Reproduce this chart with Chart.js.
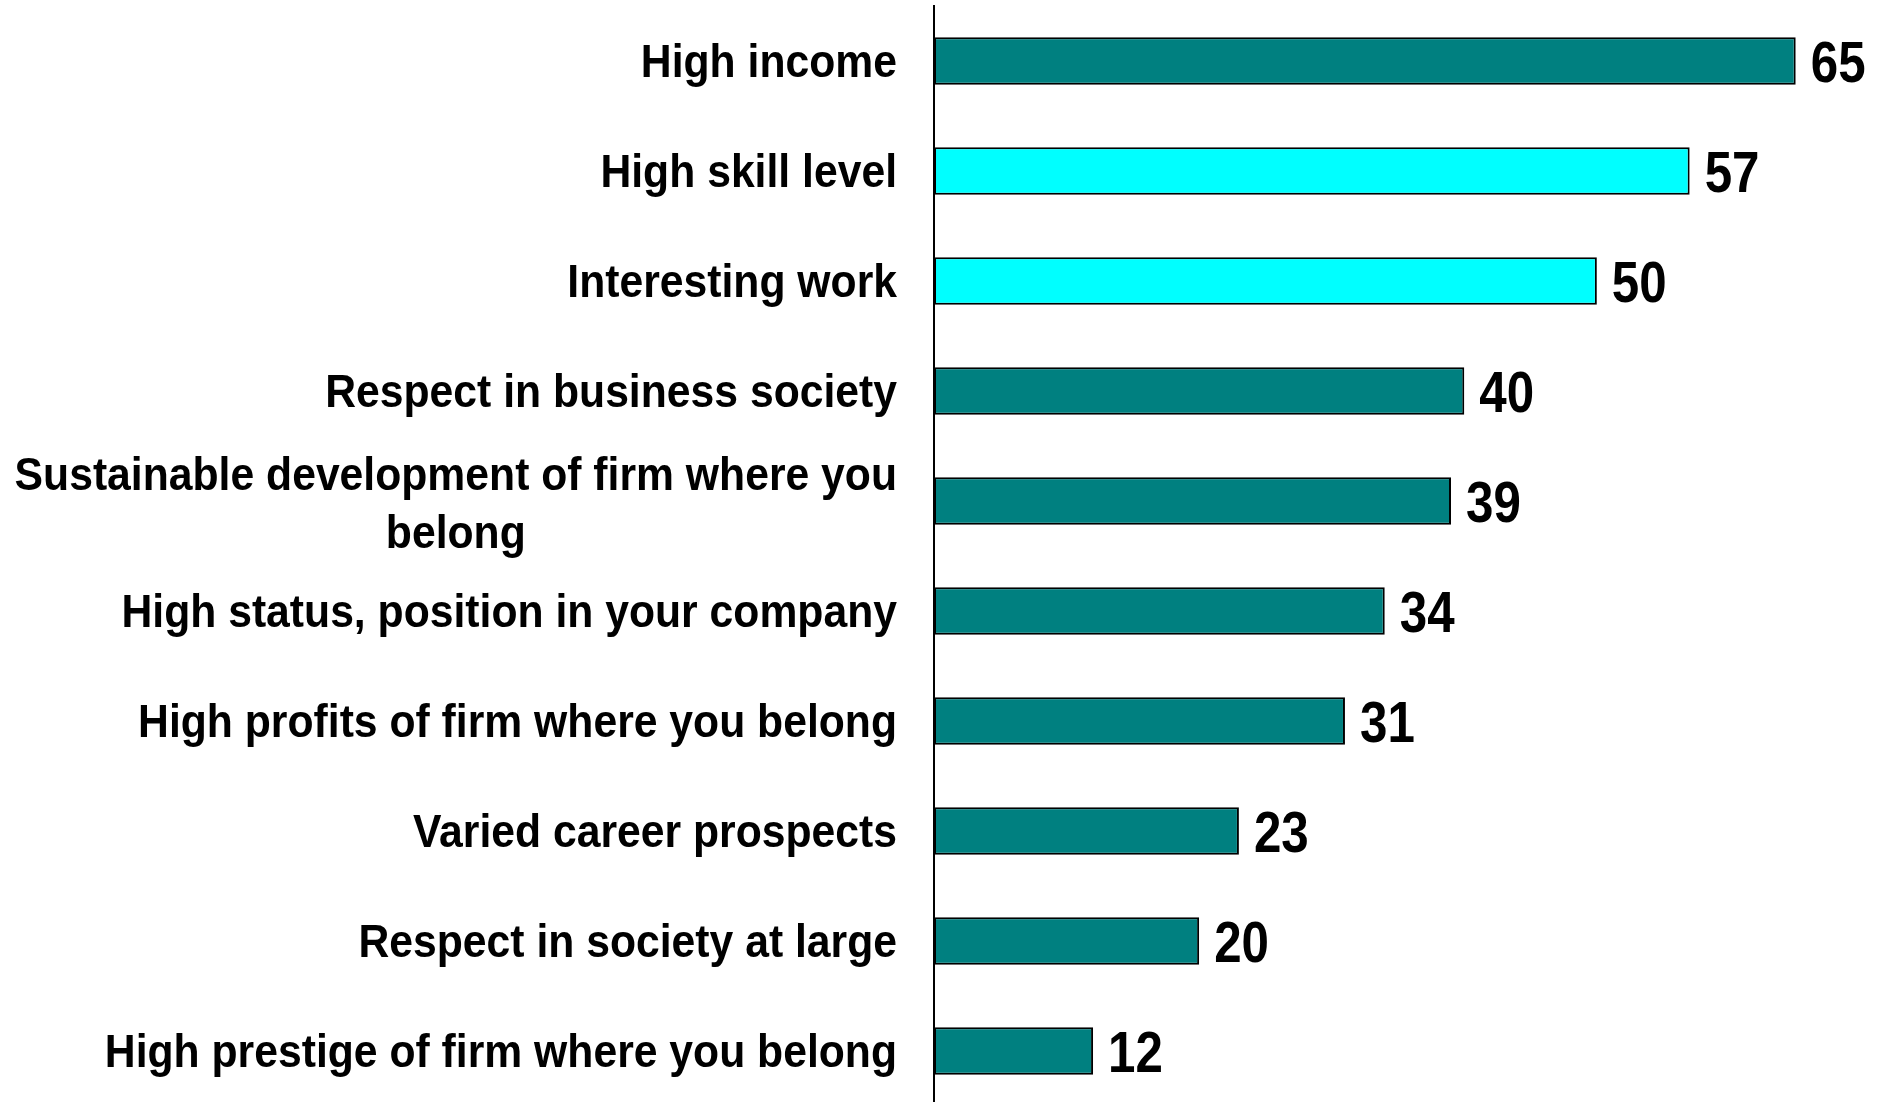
<!DOCTYPE html>
<html>
<head>
<meta charset="utf-8">
<script src="https://cdn.jsdelivr.net/npm/chart.js@4/dist/chart.umd.min.js"></script>
<style>
    html, body { margin: 0; padding: 0; background: #fff; overflow: hidden; }
    #wrap { width: 1881px; height: 1106px; }
</style>
</head>
<body>
<div id="wrap"><canvas id="chart"></canvas></div>
<script>
const categories = [
    'High income',
    'High skill level',
    'Interesting work',
    'Respect in business society',
    ['Sustainable development of firm where you', 'belong'],
    'High status, position in your company',
    'High profits of firm where you belong',
    'Varied career prospects',
    'Respect in society at large',
    'High prestige of firm where you belong'
];
const values = [65, 57, 50, 40, 39, 34, 31, 23, 20, 12];
const highlighted = [1, 2];

const TEAL = '#008080';
const CYAN = '#00FFFF';
const LABEL_FONT = 'bold 46px "Liberation Sans", Arial, sans-serif';
const VALUE_FONT = 'bold 58px "Liberation Sans", Arial, sans-serif';

// category names and bar values, drawn slightly condensed
const textPlugin = {
    id: 'textPlugin',
    afterDraw(chart) {
        const ctx = chart.ctx;
        const yScale = chart.scales.y;
        const meta = chart.getDatasetMeta(0);

        ctx.save();
        ctx.fillStyle = '#000';
        ctx.textBaseline = 'alphabetic';

        // category labels, right edge just left of the axis
        ctx.font = LABEL_FONT;
        const rightEdge = chart.chartArea.left - 37;
        const squeeze = 0.928;
        categories.forEach((label, i) => {
            const lines = Array.isArray(label) ? label : [label];
            const y = yScale.getPixelForValue(i);
            const maxW = Math.max(...lines.map(l => ctx.measureText(l).width)) * squeeze;
            const centerX = rightEdge - maxW / 2;
            lines.forEach((line, k) => {
                const ly = y + (k - (lines.length - 1) / 2) * 58 + 16 + (lines.length > 1 ? 2 : 0);
                ctx.save();
                ctx.translate(centerX, ly);
                ctx.scale(squeeze, 1);
                ctx.textAlign = 'center';
                ctx.fillText(line, 0, 0);
                ctx.restore();
            });
        });

        // value labels after each bar
        ctx.font = VALUE_FONT;
        meta.data.forEach((bar, i) => {
            ctx.save();
            ctx.translate(bar.x + 15, bar.y + 21);
            ctx.scale(0.85, 1);
            ctx.textAlign = 'left';
            ctx.fillText(String(values[i]), 0, 0);
            ctx.restore();
        });
        ctx.restore();
    }
};

new Chart(document.getElementById('chart'), {
    type: 'bar',
    data: {
        labels: categories,
        datasets: [{
            data: values,
            backgroundColor: values.map((v, i) => highlighted.includes(i) ? CYAN : TEAL),
            borderColor: '#000',
            borderWidth: 2,
            borderSkipped: false,
            categoryPercentage: 1,
            barPercentage: 0.43
        }]
    },
    options: {
        indexAxis: 'y',
        responsive: true,
        maintainAspectRatio: false,
        animation: false,
        layout: { padding: { left: 0, right: 19, top: 6, bottom: 0 } },
        plugins: {
            legend: { display: false },
            tooltip: { enabled: false }
        },
        scales: {
            x: {
                display: false,
                min: 0,
                max: 70
            },
            y: {
                grid: { display: false, drawTicks: false },
                border: { display: true, color: '#000', width: 2 },
                ticks: { display: false },
                afterFit(scale) {
                    scale.width = 934;
                }
            }
        }
    },
    plugins: [textPlugin]
});
</script>
</body>
</html>
